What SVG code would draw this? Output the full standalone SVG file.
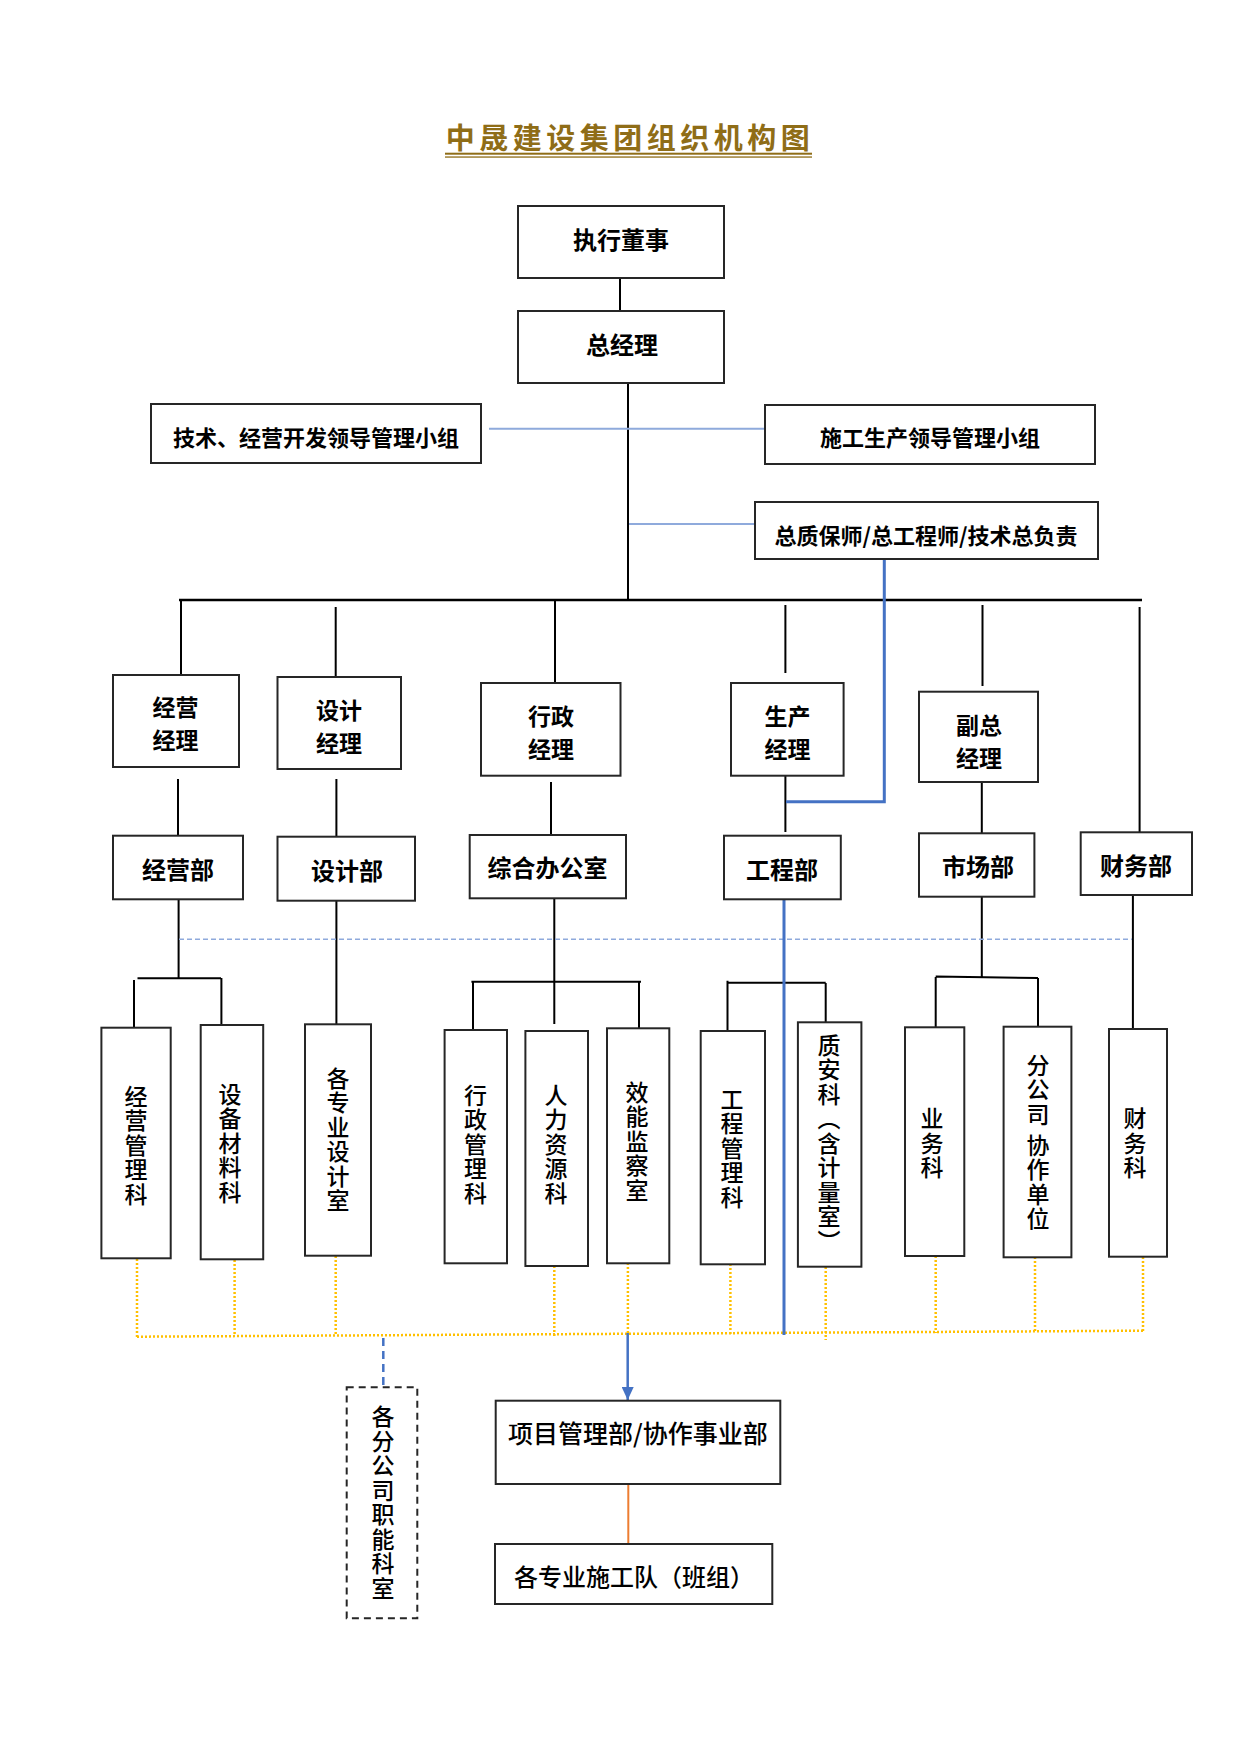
<svg xmlns="http://www.w3.org/2000/svg" width="1240" height="1754" viewBox="0 0 1240 1754">
<style>
.box{fill:#fff;stroke:#262626;stroke-width:2}
.dbox{fill:#fff;stroke:#262626;stroke-width:2;stroke-dasharray:7 5}
.t{font-family:"Noto Sans CJK SC","Liberation Sans",sans-serif;text-anchor:middle;dominant-baseline:central;fill:#000}
.b{font-weight:700}
.m{font-weight:500}
.v{writing-mode:vertical-rl;font-size:23px;letter-spacing:1.5px;font-weight:500}
.ln{stroke:#000;stroke-width:2;fill:none}
.lb{stroke:#8faadc;stroke-width:2;fill:none}
.db{stroke:#4472c4;stroke-width:3;fill:none}
.yd{stroke:#ffc000;stroke-width:2.5;stroke-dasharray:2 2;fill:none}
</style>
<defs>
<marker id="arr" viewBox="0 0 13 12" refX="13" refY="6" markerWidth="13" markerHeight="12" markerUnits="userSpaceOnUse" orient="auto">
<path d="M0 0 L13 6 L0 12 Z" fill="#4472c4"/>
</marker>
</defs>
<rect width="1240" height="1754" fill="#fff"/>
<g id="title">
<text x="630" y="136" class="t b" style="font-size:29px;letter-spacing:4.5px;fill:#8f6d17">中晟建设集团组织机构图</text>
<rect x="445" y="152.7" width="367" height="2" fill="#8f6d17"/>
<rect x="445" y="156.4" width="367" height="1.3" fill="#8f6d17"/>
</g>
<g id="connectors">
<path class="ln" d="M620 278V311M628 383V600M181 601V675M335.7 607V677M555 600V683M785.4 605V673M982.5 605V686M1139.6 607V832M178 779V836M336.4 779V837M551 782V835M785.4 776V832M981.8 782V833M178.6 899V978.3M137.5 978.3H221M134 980V1028M221.4 978V1025M336.4 901V1024M554.3 898V1024M471.4 981.7H641M473 982V1030M639 982V1028M727.5 982.7H825.7M727.5 980.7V1031M825.7 983V1022.3M981.8 897V978M935.7 976.5L1038 978M935.7 977V1027M1038 978V1027M1132.9 895V1029"/>
<path d="M179 600H1142" stroke="#000" stroke-width="2.6" fill="none"/>
<path class="lb" d="M489 428.7H765M629 524H755"/>
<path d="M179 939.3H1132" stroke="#8faadc" stroke-width="1.5" stroke-dasharray="5 3" fill="none"/>
<path class="yd" d="M137 1259V1337M234.6 1260V1336M335.7 1256V1336M554.3 1266V1336M627.9 1263V1335M730.4 1264V1334M825.7 1267V1340M935.7 1256V1333M1035 1257V1332M1143 1257V1331M137 1336.7L1143 1330.7"/>
<path class="db" d="M884.3 559V801.7H786M784 899V1335"/>
<path d="M383.3 1338V1387" stroke="#4472c4" stroke-width="2.5" stroke-dasharray="8 5" fill="none"/>
<path d="M627.7 1333V1400" stroke="#4472c4" stroke-width="2.5" fill="none" marker-end="url(#arr)"/>
<path d="M628.3 1484V1544" stroke="#ed7d31" stroke-width="2" fill="none"/>
</g>
<g id="n-exec"><rect class="box" x="518" y="206" width="206" height="72"/><text class="t b" x="621" y="238" font-size="24">执行董事</text></g>
<g id="n-gm"><rect class="box" x="518" y="311" width="206" height="72"/><text class="t b" x="622" y="343" font-size="24">总经理</text></g>
<g id="n-techgroup"><rect class="box" x="151" y="404" width="330" height="59"/><text class="t b" x="316" y="435.5" font-size="22">技术、经营开发领导管理小组</text></g>
<g id="n-congroup"><rect class="box" x="765" y="405" width="330" height="59"/><text class="t b" x="930" y="436" font-size="22">施工生产领导管理小组</text></g>
<g id="n-chief"><rect class="box" x="755" y="502" width="343" height="57"/><text class="t b" x="926" y="534" font-size="22">总质保师/总工程师/技术总负责</text></g>
<g id="n-jyjl"><rect class="box" x="113" y="675" width="126" height="92"/><text class="t b" x="175.5" y="706" font-size="23">经营</text><text class="t b" x="175.5" y="739" font-size="23">经理</text></g>
<g id="n-sjjl"><rect class="box" x="277.5" y="677" width="123.5" height="92"/><text class="t b" x="339" y="709" font-size="23">设计</text><text class="t b" x="339" y="742" font-size="23">经理</text></g>
<g id="n-xzjl"><rect class="box" x="481" y="683" width="139.5" height="92.7"/><text class="t b" x="551" y="714.5" font-size="23">行政</text><text class="t b" x="551" y="747.5" font-size="23">经理</text></g>
<g id="n-scjl"><rect class="box" x="731" y="683" width="112.6" height="92.7"/><text class="t b" x="787.5" y="714.5" font-size="23">生产</text><text class="t b" x="787.5" y="747.5" font-size="23">经理</text></g>
<g id="n-fzjl"><rect class="box" x="919" y="691.7" width="119" height="90.3"/><text class="t b" x="979" y="724" font-size="23">副总</text><text class="t b" x="979" y="757" font-size="23">经理</text></g>
<g id="n-jyb"><rect class="box" x="113" y="835.7" width="130" height="63.6"/><text class="t b" x="178" y="868" font-size="24">经营部</text></g>
<g id="n-sjb"><rect class="box" x="277.5" y="836.7" width="137.5" height="64"/><text class="t b" x="347" y="869" font-size="24">设计部</text></g>
<g id="n-zhbgs"><rect class="box" x="469.7" y="835" width="156.3" height="63.3"/><text class="t b" x="547.5" y="866" font-size="24">综合办公室</text></g>
<g id="n-gcb"><rect class="box" x="724" y="835.7" width="116.8" height="63.6"/><text class="t b" x="782" y="868" font-size="24">工程部</text></g>
<g id="n-scb"><rect class="box" x="919" y="833.3" width="115.4" height="63.4"/><text class="t b" x="978" y="865" font-size="24">市场部</text></g>
<g id="n-cwb"><rect class="box" x="1080.7" y="832.3" width="111.3" height="62.7"/><text class="t b" x="1136" y="864" font-size="24">财务部</text></g>
<g id="n-jyglk"><rect class="box" x="101.4" y="1027.7" width="69.3" height="230.6"/><text class="t v" x="136" y="1146">经营管理科</text></g>
<g id="n-sbclk"><rect class="box" x="200.7" y="1025" width="62.5" height="234.3"/><text class="t v" x="230" y="1144">设备材料科</text></g>
<g id="n-gzysjs"><rect class="box" x="305" y="1024.3" width="66" height="231.4"/><text class="t v" x="338" y="1140">各专业设计室</text></g>
<g id="n-xzglk"><rect class="box" x="444.6" y="1030" width="62.4" height="233.3"/><text class="t v" x="475.5" y="1145">行政管理科</text></g>
<g id="n-rlzyk"><rect class="box" x="525.4" y="1031" width="62.6" height="235"/><text class="t v" x="556" y="1145">人力资源科</text></g>
<g id="n-xnjcs"><rect class="box" x="607" y="1028.3" width="62.3" height="235"/><text class="t v" x="637" y="1142">效能监察室</text></g>
<g id="n-gcglk"><rect class="box" x="700.7" y="1031" width="64.3" height="233.3"/><text class="t v" x="732" y="1149">工程管理科</text></g>
<g id="n-zak"><rect class="box" x="797.9" y="1022.3" width="63.5" height="244.4"/><text class="t v" x="829" y="1144">质安科（含计量室）</text></g>
<g id="n-ywk"><rect class="box" x="905" y="1027.3" width="59.3" height="228.7"/><text class="t v" x="932" y="1144">业务科</text></g>
<g id="n-fgs"><rect class="box" x="1003.6" y="1026.7" width="67.8" height="230.6"/><text class="t v" x="1038" y="1142.5">分公司 协作单位</text></g>
<g id="n-cwk"><rect class="box" x="1109" y="1029" width="58" height="227.7"/><text class="t v" x="1135" y="1144">财务科</text></g>
<g id="n-fgszn"><rect class="dbox" x="346.7" y="1387.3" width="70.6" height="231"/><text class="t v" x="383" y="1503">各分公司职能科室</text></g>
<g id="n-xmglb"><rect class="box" x="495.7" y="1400.7" width="284.6" height="83.3"/><text class="t m" x="638" y="1431.5" font-size="25">项目管理部/协作事业部</text></g>
<g id="n-sgd"><rect class="box" x="495" y="1544" width="277.3" height="60"/><text class="t m" x="634" y="1575" font-size="24">各专业施工队（班组）</text></g>
</svg>
